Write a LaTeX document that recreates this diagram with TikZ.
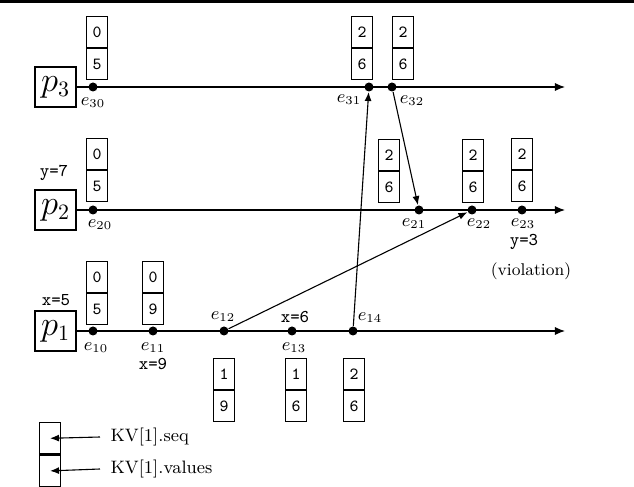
\documentclass[tikz,border=0pt]{standalone}
\usetikzlibrary{arrows.meta,positioning}
\begin{document}
\begin{tikzpicture}[x=0.5pt, y=-0.5pt, line width=0.55pt,
    proc/.style={draw, minimum width=20.5pt, minimum height=20pt, inner sep=0pt,
      font=\fontsize{16}{16}\selectfont},
    ev/.style={circle, fill, inner sep=0pt, minimum size=4.5pt},
    cell/.style={draw, minimum width=10.5pt, minimum height=15.5pt, inner sep=0pt,
      font=\ttfamily\fontsize{8.5}{8.5}\selectfont},
    lbl/.style={font=\fontsize{9}{9}\selectfont, inner sep=1pt},
    var/.style={font=\ttfamily\fontsize{9}{9}\selectfont, inner sep=0pt},
    line/.style={-{Latex[length=5pt, width=4pt]}},
    msg/.style={-{Latex[length=4.5pt, width=3.5pt]}}]
  \useasboundingbox (0,0) rectangle (634,487);
  % Top rule
  \fill (0,0) rectangle (634,3.5);
  % Processes and their time lines
  \foreach \i/\y in {3/87, 2/210, 1/331} {
    \node[proc] (p\i) at (55.5,\y) {$p_{\i}$};
    \coordinate (end\i) at (565,\y);
    \draw[line] (p\i) -- (end\i);
  }
  % Events
  \foreach \n/\x/\y in {30/93/87, 31/369/87, 32/392/87,
                        20/93/210, 21/419/210, 22/472/210, 23/522/210,
                        10/93/331, 11/153/331, 12/224/331, 13/292/331, 14/353/331} {
    \node[ev] (e\n) at (\x,\y) {};
  }
  % Event labels
  \foreach \n/\x/\y in {30/93/103, 31/349/100, 32/412/101,
                        20/100/225, 21/414/224, 22/479/224, 23/523/224,
                        10/96/348, 11/153/348, 12/223/317, 13/294/348, 14/370/318} {
    \node[lbl] (l\n) at (\x,\y) {$e_{\n}$};
  }
  % Local writes
  \node[var] (w1) at (56,300) {x=5};
  \node[var] (w2) at (54,173) {y=7};
  \node[var] (w3) at (153,364) {x=9};
  \node[var] (w4) at (295,317) {x=6};
  \node[var] (w5) at (524,242) {y=3};
  \node[lbl, font=\fontsize{8.5}{8.5}\selectfont] (viol) at (531,271) {(violation)};
  % KV[1] boxes: seq on top, values below
  \foreach \n/\x/\y/\s/\v in {30/86/16/0/5, 31/351/16/2/6, 32/392/16/2/6,
                              20/86/138/0/5, 21/378/139/2/6, 22/462/139/2/6, 23/511/138/2/6,
                              10/86/261/0/5, 11/142/261/0/9,
                              12/213/358/1/9, 13/285/358/1/6, 14/343/358/2/6} {
    \node[cell, anchor=north west] (k\n) at (\x,\y) {\s};
    \node[cell, below=0pt of k\n] (v\n) {\v};
  }
  % Messages
  \draw[msg] (e12) -- (e22);
  \draw[msg] (e14) -- (e31);
  \draw[msg] (e32) -- (e21);
  % Legend
  \node[cell, anchor=north west, minimum height=15.75pt] (legs) at (39,422) {};
  \node[cell, minimum height=15.75pt, below=0pt of legs] (legv) {};
  \node[lbl, anchor=west, inner xsep=5pt] (tseq) at (100,437) {KV[1].seq};
  \node[lbl, anchor=west, inner xsep=5pt] (tval) at (100,469) {KV[1].values};
  \draw[msg] (tseq.west) -- (legs.center);
  \draw[msg] (tval.west) -- (legv.center);
\end{tikzpicture}
\end{document}
